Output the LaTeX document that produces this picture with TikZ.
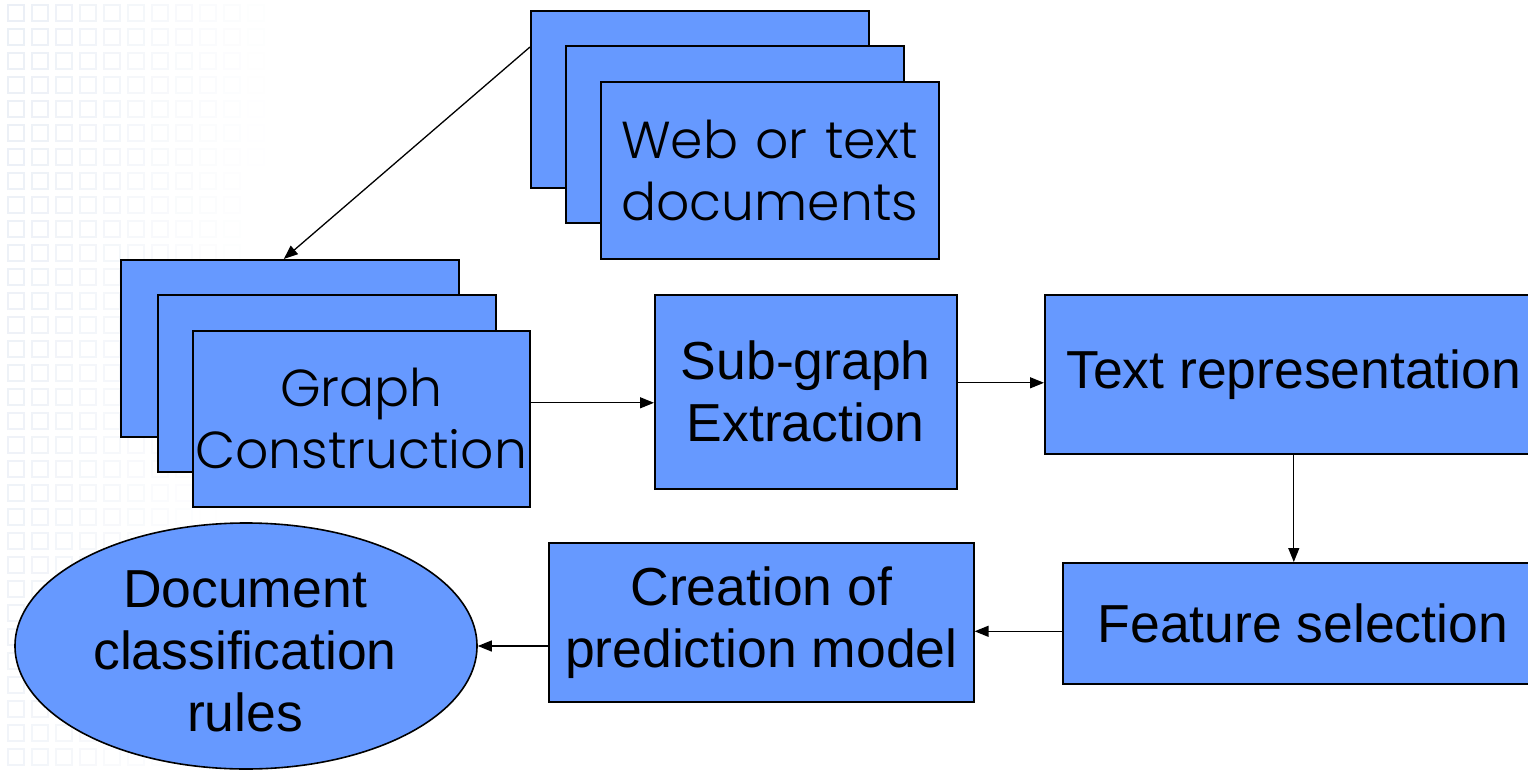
\documentclass[tikz,border=0pt]{standalone}
\usepackage{fontspec}
\setmainfont{Liberation Sans}
\newfontfamily\gothic{Poppins Light}
\usetikzlibrary{arrows.meta,shapes.geometric}
\definecolor{boxblue}{RGB}{102,153,255}
\definecolor{gridc}{RGB}{222,229,240}
\begin{document}
\begin{tikzpicture}[x=1pt,y=-1pt,
  box/.style={draw=black, line width=1.6pt, fill=boxblue, anchor=north west, inner sep=0pt, align=center},
  arr/.style={line width=1.3pt, -{Triangle[length=14pt,width=11pt]}},
  ar/.style={font=\fontsize{53.5}{62}\selectfont},
  gt/.style={font=\gothic\fontsize{52}{62}\selectfont}]
\useasboundingbox (0,0) rectangle (1528,770);
\clip (0,0) rectangle (1528,770);
% faint background grid
\foreach \i in {0,...,11} {
  \foreach \j in {0,...,31} {
    \pgfmathsetmacro\op{max(0,0.6*(1-\i/11)-0.006*\j)}
    \draw[gridc, line width=1.1pt, opacity=\op] (8+24*\i,5+24*\j) rectangle +(16,16);
  }
}
% Web or text documents stack
\node[box, minimum width=338pt, minimum height=177pt] (w1) at (530,10) {};
\node[box, minimum width=338pt, minimum height=177pt] (w2) at (565,45) {};
\node[box, minimum width=338pt, minimum height=177pt, text width=338pt, gt] (w3) at (600,81) {Web or text\\documents};
% Graph construction stack
\node[box, minimum width=338pt, minimum height=177pt] (g1) at (120,259) {};
\node[box, minimum width=338pt, minimum height=177pt] (g2) at (157,294) {};
\node[box, minimum width=337pt, minimum height=176pt, text width=337pt, gt] (g3) at (192,330) {Graph\\Construction};
% process boxes
\node[box, minimum width=302pt, minimum height=194pt, ar] (sub) at (654,294) {Sub-graph\\Extraction};
\node[box, minimum width=498pt, minimum height=159pt, ar] (tr) at (1044,294) {Text representation};
\node[box, minimum width=480pt, minimum height=121pt, ar] (fs) at (1062,562) {Feature selection};
\node[box, minimum width=425pt, minimum height=159pt, ar] (cr) at (548,542) {Creation of\\prediction model};
\node[draw=black, line width=1.6pt, fill=boxblue, ellipse, minimum width=462pt, minimum height=246pt, inner sep=0pt] (doc) at (246,646) {};
\node[ar, align=center, inner sep=0pt] (doct) at (245,651) {Document\\classification\\rules};
% connectors
\draw[arr] ([yshift=-37pt]w1.north west) -- ([xshift=-6pt]g1.north);
\draw[arr] ([yshift=16pt]g3.east) -- ([yshift=16pt]g3.east -| sub.west);
\draw[arr] ([yshift=9pt]sub.east) -- ([yshift=9pt]sub.east -| tr.west);
\draw[arr] (tr.south) -- (tr.south |- fs.north);
\draw[arr] ([yshift=-8pt]fs.west) -- ([yshift=-8pt]fs.west -| cr.east);
\draw[arr] (cr.west |- doc.east) -- (doc.east);
\end{tikzpicture}
\end{document}
